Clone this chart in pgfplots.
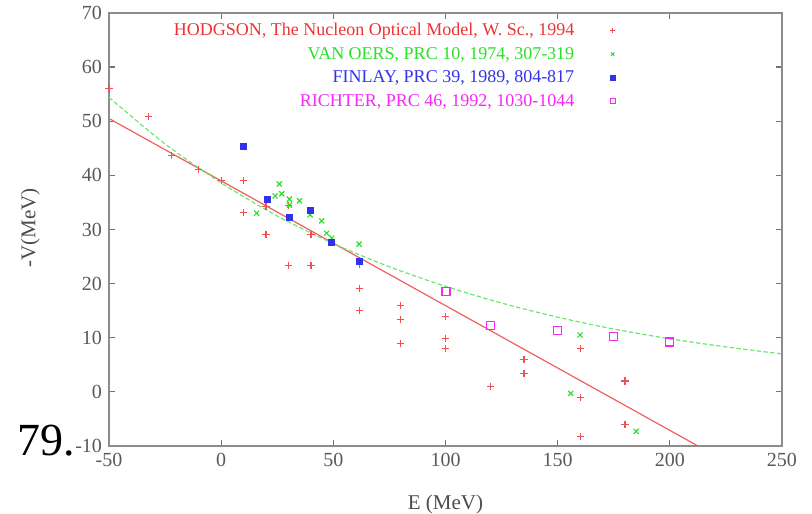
\documentclass[border=0pt]{standalone}
\usepackage{pgfplots}
\pgfplotsset{compat=1.18}
\usepackage{fontspec}
\setmainfont{Liberation Serif}
\definecolor{cred}{RGB}{240,50,50}
\definecolor{cgreen}{RGB}{40,225,40}
\definecolor{cblue}{RGB}{50,50,235}
\definecolor{cmag}{RGB}{245,40,245}
\definecolor{mred}{RGB}{240,80,80}
\definecolor{lred}{RGB}{240,95,95}
\definecolor{lgreen}{RGB}{110,230,110}
\pgfplotsset{
  colmarks/.style={scatter, only marks,
    scatter/@pre marker code/.code={\pgfsetstrokecolor{#1}\pgfsetfillcolor{#1}},
    scatter/@post marker code/.code={}},
  legimg/.style 2 args={legend image code/.code={%
    \path[draw=none] (0cm,0cm) -- (0.7cm,0cm);
    \pgfsetstrokecolor{#1}\pgfsetfillcolor{#1}\pgfsetlinewidth{0.5pt}%
    \pgfsetplotmarksize{1.2pt}%
    \pgftransformshift{\pgfpoint{0.64cm}{0cm}}\pgfuseplotmark{#2}}},
}
\begin{document}
\begin{tikzpicture}
\begin{axis}[
  scale only axis, width=336.5pt, height=216.5pt,
  xmin=-50, xmax=250, ymin=-10, ymax=70,
  xtick={-50,0,50,100,150,200,250},
  ytick={-10,0,10,20,30,40,50,60,70},
  tick align=inside, major tick length=3pt,
  axis line style={black!45, line width=0.7pt},
  every tick/.style={black!55, line width=0.6pt},
  /pgf/number format/assume math mode=true,
  tick label style={font=\fontsize{10}{11}\selectfont, text=black!65},
  xlabel={E (MeV)}, ylabel={-V(MeV)},
  label style={font=\fontsize{10.5}{11}\selectfont, text=black!70},
  xlabel style={at={(rel axis cs:0.5,-0.136)}, anchor=center},
  ylabel style={at={(rel axis cs:-0.117,0.504)}, anchor=center},
  clip=false,
  legend plot pos=right,
  legend cell align=right,
  legend style={draw=none, fill=none, at={(rel axis cs:0.763,0.995)}, anchor=north east,
    font=\fontsize{9}{11}\selectfont, row sep=0.8pt,
    nodes={inner sep=1pt, text height=7pt, text depth=2pt}},
]
\addplot[lred, line width=0.6pt, forget plot] coordinates {(-50,50.5) (212.5,-10)};
\addplot[lgreen, line width=0.6pt, dash pattern=on 2.2pt off 1.2pt, smooth, forget plot] coordinates {
(-50,54.4) (-25,45.8) (0,38.6) (25,32.5) (50,27.4) (75,23.1) (100,19.5) (125,16.4) (150,13.8) (175,11.6) (200,9.8) (225,8.3) (250,7.0)};
\addplot[colmarks=mred, mark=+, mark size=1.8pt, mark options={line width=0.6pt}, legimg={mred}{+}] coordinates {
(-50,56) (-32.4,50.8) (-22,43.6) (-10,41.1) (0,39) (10,39) (10,33.2) (20,34.2) (20,29.1) (30,34.5) (30,23.4) (40,29.1) (40,23.4) (61.5,23.5) (61.7,19.1) (61.7,15.1) (80,16) (80,13.4) (80,8.9) (100,13.9) (100,9.9) (100,8) (120,1) (135,6) (135,3.4) (160,8) (160,-1) (160,-8.2) (180,2) (180,-6)};
\addlegendentry[text=cred]{HODGSON, The Nucleon Optical Model, W. Sc., 1994}
\addplot[colmarks=cgreen, mark=x, mark size=1.8pt, mark options={line width=0.6pt}, legimg={cgreen}{x}] coordinates {
(15.8,33) (25.9,38.4) (24,36.2) (27,36.6) (30.4,35.6) (30.4,34.5) (34.9,35.3) (39.6,32.7) (44.8,31.6) (47,29.3) (49.3,28.4) (61.5,27.3) (155.8,-0.3) (160,10.5) (185,-7.3)};
\addlegendentry[text=cgreen]{VAN OERS, PRC 10, 1974, 307-319}
\addplot[colmarks=cblue, mark=square*, mark size=1.5pt, legimg={cblue}{square*}] coordinates {
(10,45.3) (20.5,35.6) (30.2,32.2) (39.6,33.5) (49.3,27.7) (61.5,24.1)};
\addlegendentry[text=cblue]{FINLAY, PRC 39, 1989, 804-817}
\addplot[colmarks=cmag, mark=square, mark size=2pt, mark options={line width=0.6pt}, legimg={cmag}{square}] coordinates {
(100.2,18.6) (120,12.3) (150,11.4) (175,10.2) (200,9.2)};
\addlegendentry[text=cmag]{RICHTER, PRC 46, 1992, 1030-1044}
\node[anchor=base west, font=\fontsize{23}{23}\selectfont, text=black] at (rel axis cs:-0.147,-0.021) {79.};
\coordinate (bbll) at (rel axis cs:-0.162,-0.157);
\coordinate (bbur) at (rel axis cs:1.0446,1.030);
\end{axis}
\pgfresetboundingbox
\path[use as bounding box] (bbll) rectangle (bbur);
\end{tikzpicture}
\end{document}
